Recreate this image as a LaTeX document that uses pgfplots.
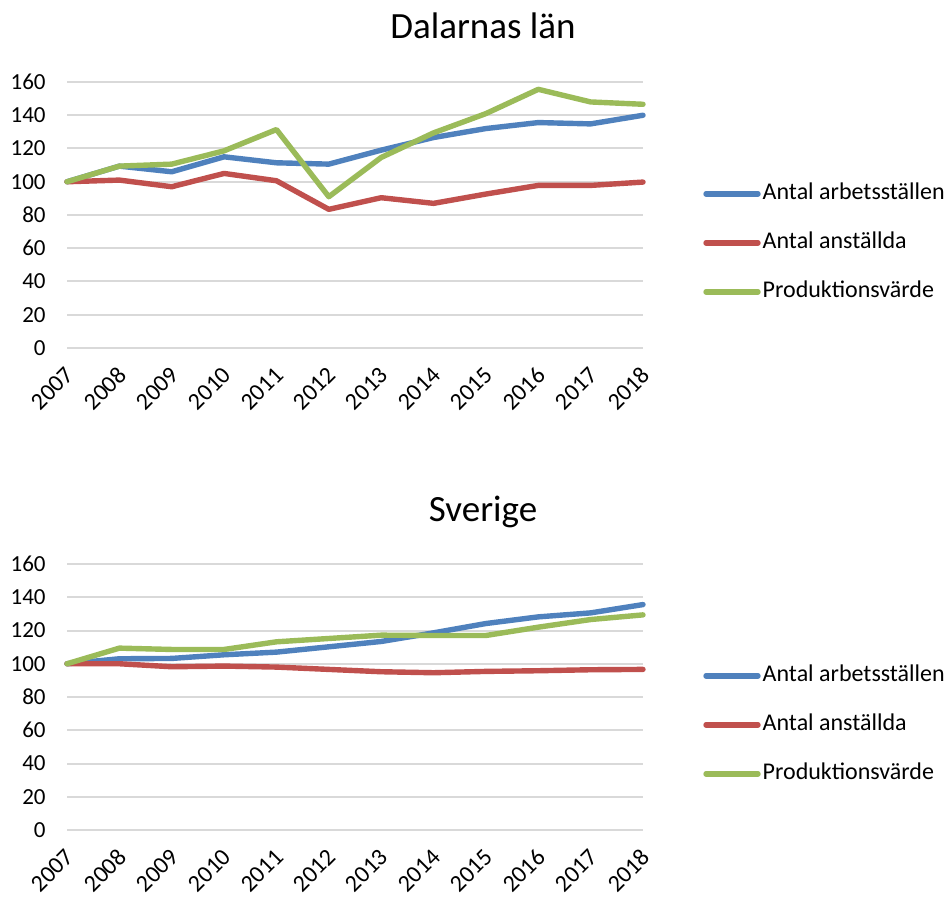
\documentclass[border=0pt]{standalone}
\usepackage{pgfplots}
\pgfplotsset{compat=1.18}
\usepackage{fontspec}
\setmainfont{Carlito}
\definecolor{cblue}{HTML}{4F81BD}
\definecolor{cred}{HTML}{C0504D}
\definecolor{cgreen}{HTML}{9BBB59}
\definecolor{cgrid}{HTML}{D9D9D9}
\pgfplotsset{
  mystyle/.style={
    width=288pt, height=133pt, scale only axis,
    xmin=2007, xmax=2018, ymin=0, ymax=160,
    ytick={0,20,...,160}, xtick={2007,2008,...,2018},
    ymajorgrids, grid style={color=cgrid, line width=1pt},
    axis line style={draw=none}, major tick length=0pt,
    /pgf/number format/assume math mode=true,
    /pgf/number format/1000 sep={},
    yticklabel style={font=\fontsize{11.5}{13}\selectfont, inner sep=0pt, xshift=-10.5pt},
    xticklabel style={font=\fontsize{12}{14}\selectfont, xshift=1.5pt, yshift=-11.5pt, rotate=45, anchor=east, inner sep=0pt},
    clip=false,
    every axis plot/.append style={line width=2.7pt, line cap=round, line join=round},
    legend cell align=left,
    legend style={draw=none, fill=none, at={(1.104,0.395)}, anchor=west, inner sep=0pt,
      font=\fontsize{12}{14}\selectfont, row sep=10.5pt,
      nodes={text height=9pt, text depth=3pt, inner sep=1pt}},
    legend image code/.code={\draw[##1, line width=2.7pt, line cap=round] (0pt,0pt) -- (26pt,0pt);},
  }
}
\begin{document}
\begin{tikzpicture}
\useasboundingbox (0,0) rectangle (473pt,-449pt);
\node[anchor=base, font=\fontsize{18.5}{22}\selectfont] at (241.5pt,-19.5pt) {Dalarnas län};
\node[anchor=base, font=\fontsize{18.5}{22}\selectfont] at (241.5pt,-260.5pt) {Sverige};
\begin{axis}[mystyle, at={(33.5pt,-174pt)}, anchor=south west]
\addplot[cblue] coordinates {(2007,100) (2008,109.4) (2009,106) (2010,115) (2011,111.4) (2012,110.6) (2013,119) (2014,126.6) (2015,132) (2016,135.6) (2017,134.8) (2018,140)};
\addlegendentry{Antal arbetsställen}
\addplot[cred] coordinates {(2007,100) (2008,101) (2009,97) (2010,105) (2011,100.6) (2012,83.4) (2013,90.4) (2014,87) (2015,92.6) (2016,97.8) (2017,97.8) (2018,99.8)};
\addlegendentry{Antal anställda}
\addplot[cgreen] coordinates {(2007,100) (2008,109.4) (2009,110.6) (2010,118.6) (2011,131.4) (2012,91) (2013,114.6) (2014,129.4) (2015,141) (2016,155.6) (2017,148) (2018,146.6)};
\addlegendentry{Produktionsvärde}
\end{axis}
\begin{axis}[mystyle, at={(33.5pt,-415pt)}, anchor=south west]
\addplot[cblue] coordinates {(2007,100) (2008,103) (2009,103.2) (2010,105.4) (2011,107) (2012,110.2) (2013,113.4) (2014,118.6) (2015,124.2) (2016,128.2) (2017,130.6) (2018,135.6)};
\addlegendentry{Antal arbetsställen}
\addplot[cred] coordinates {(2007,100) (2008,100) (2009,98.2) (2010,98.6) (2011,98) (2012,96.6) (2013,95.2) (2014,94.6) (2015,95.4) (2016,95.8) (2017,96.4) (2018,96.6)};
\addlegendentry{Antal anställda}
\addplot[cgreen] coordinates {(2007,100) (2008,109.4) (2009,108.6) (2010,108.6) (2011,113.2) (2012,115.2) (2013,117.2) (2014,117) (2015,117) (2016,122) (2017,126.6) (2018,129.4)};
\addlegendentry{Produktionsvärde}
\end{axis}
\end{tikzpicture}
\end{document}
